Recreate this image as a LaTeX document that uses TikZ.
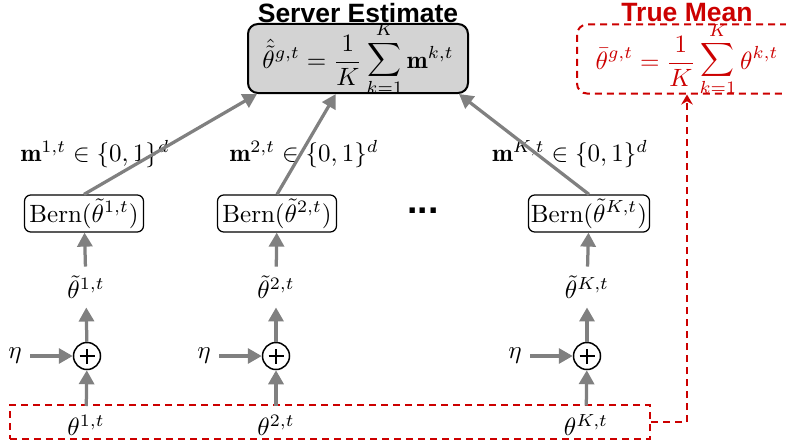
\documentclass[tikz,border=0pt]{standalone}
\usepackage{fontspec}
\usepackage{amsmath}
\newfontfamily\headfont{Liberation Sans}
\usetikzlibrary{arrows.meta,calc}
\definecolor{arrgray}{HTML}{808080}
\definecolor{tmred}{HTML}{CC0000}
\definecolor{boxgray}{HTML}{D3D3D3}
\newcommand{\bigsumk}{\mathop{\raisebox{1.6pt}{$\vcenter{\offinterlineskip\halign{\hfil##\hfil\cr
  $\scriptstyle K$\cr\noalign{\kern2pt}
  \resizebox{13.6pt}{!}{$\displaystyle\sum$}\cr\noalign{\kern0.9pt}
  $\scriptstyle k=1$\cr}}$}}}
\tikzset{
  flow/.style={draw=arrgray, line width=1.3pt, -{Triangle[width=6pt,length=5.6pt]}},
  bernbox/.style={draw, rounded corners=2.5pt, line width=0.5pt, minimum width=47.6pt, minimum height=14.8pt, inner sep=1pt},
  sumnode/.style={circle, draw, line width=0.6pt, minimum size=10.8pt, inner sep=0pt,
    path picture={\draw[line width=0.5pt] (path picture bounding box.center) ++(-3pt,0pt) -- ++(6pt,0pt);
                  \draw[line width=0.5pt] (path picture bounding box.center) ++(0pt,-3pt) -- ++(0pt,6pt);}},
  headline/.style={font=\headfont\bfseries\fontsize{10.6}{12}\selectfont},
  reddash/.style={draw=tmred, line width=0.8pt, dash pattern=on 2.8pt off 2pt},
  bigbox/.style={rounded corners=4pt, minimum width=88pt, minimum height=26.8pt, inner sep=0pt},
}
\begin{document}
\begin{tikzpicture}[x=0.4pt,y=-0.4pt]
\path[use as bounding box, clip] (0,0) rectangle (786,447);

% server estimate
\node[headline] (sttl) at (358,13) {Server Estimate};
\node[bigbox, draw, fill=boxgray, line width=0.8pt] (srv) at (358,58.5)
  {$\displaystyle \hat{\tilde{\theta}}^{g,t} = \frac{1}{K}\bigsumk\mathbf{m}^{k,t}$};

% true mean
\node[headline, text=tmred] (tmttl) at (687,13) {True Mean};
\node[bigbox, reddash, text=tmred] (tm) at (687,59)
  {$\displaystyle \bar{\theta}^{g,t} = \frac{1}{K}\bigsumk\theta^{k,t}$};

% Bernoulli boxes
\node[bernbox] (b1) at (84,213.5) {$\mathrm{Bern}(\tilde{\theta}^{1,t})$};
\node[bernbox] (b2) at (277,213.5) {$\mathrm{Bern}(\tilde{\theta}^{2,t})$};
\node[bernbox] (bK) at (589,213.5) {$\mathrm{Bern}(\tilde{\theta}^{K,t})$};

% message labels
\node (m1) at (95,154) {$\mathbf{m}^{1,t}\in\{0,1\}^d$};
\node (m2) at (304,154) {$\mathbf{m}^{2,t}\in\{0,1\}^d$};
\node (mK) at (570,154) {$\mathbf{m}^{K,t}\in\{0,1\}^d$};

% dots
\node[font=\headfont\bfseries\fontsize{15}{15}\selectfont] (dots) at (423,211) {...};

% perturbed params
\node (tt1) at (86,287) {$\tilde{\theta}^{1,t}$};
\node (tt2) at (276,287) {$\tilde{\theta}^{2,t}$};
\node (ttK) at (587,287) {$\tilde{\theta}^{K,t}$};

% sum nodes
\node[sumnode] (p1) at (87,356) {};
\node[sumnode] (p2) at (276,356) {};
\node[sumnode] (pK) at (587,356) {};

% noise
\node (e1) at (15,356) {$\eta$};
\node (e2) at (204,356) {$\eta$};
\node (eK) at (515,356) {$\eta$};

% thetas
\node (t1) at (86,425) {$\theta^{1,t}$};
\node (t2) at (276,425) {$\theta^{2,t}$};
\node (tK) at (586,425) {$\theta^{K,t}$};

% dashed frame round the thetas
\node[reddash, minimum width=256pt, minimum height=13.6pt, inner sep=0pt] (thbox) at (330,422) {};

% connectors
\foreach \i in {1,2,K}{
  \draw[flow] (t\i) -- (p\i);
  \draw[flow] (e\i) -- (p\i);
  \draw[flow] (p\i) -- (tt\i);
  \draw[flow] (tt\i) -- (b\i);
}
\draw[flow] (b1.north) -- ($(srv.south west)!0.045!(srv.south east)$);
\draw[flow] (b2.north) -- ($(srv.south west)!0.40!(srv.south east)$);
\draw[flow] (bK.north) -- ($(srv.south west)!0.955!(srv.south east)$);

\draw[reddash, -{Stealth[width=4.6pt,length=4pt]}] (thbox.east) -| (tm.south);
\end{tikzpicture}
\end{document}
